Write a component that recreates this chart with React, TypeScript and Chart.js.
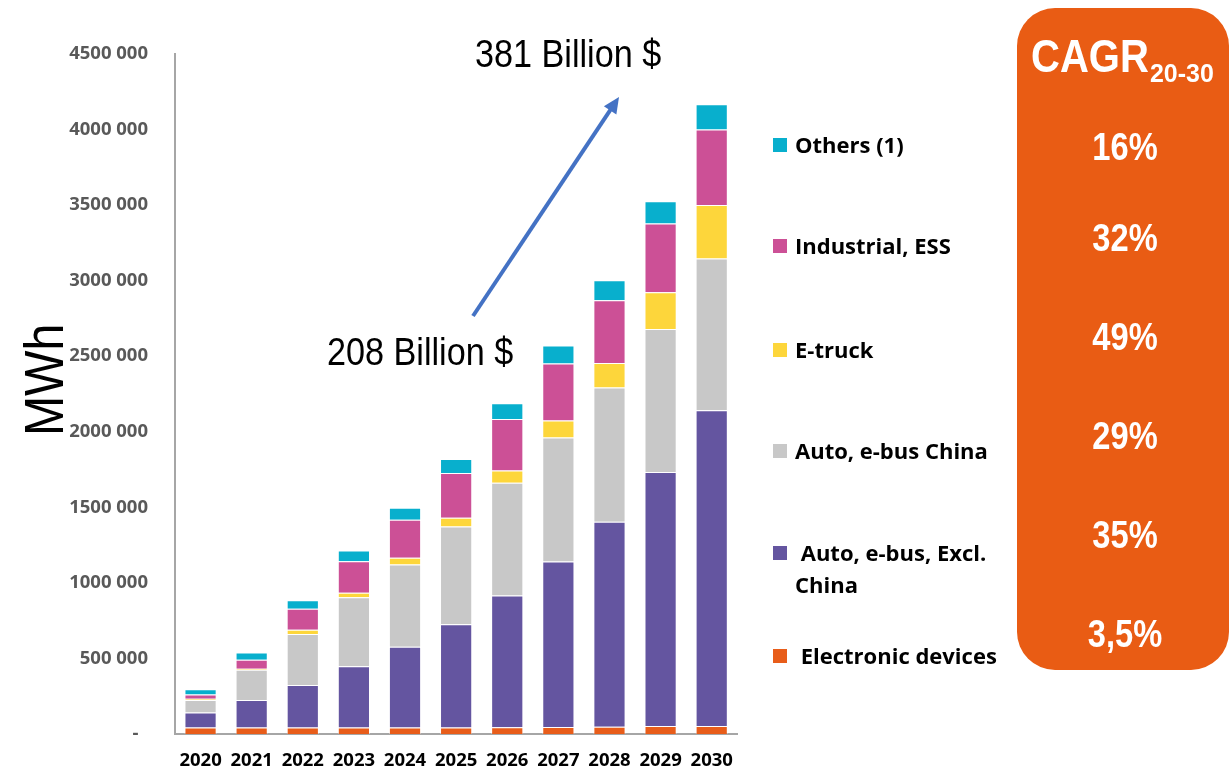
import { useEffect, useRef } from "react";
import { Chart, registerables } from "chart.js";

Chart.register(...registerables);

// Battery demand by application, MWh
const years = ["2020", "2021", "2022", "2023", "2024", "2025", "2026", "2027", "2028", "2029", "2030"];
const electronicDevices = [42000, 42000, 42000, 42000, 42000, 42000, 44000, 46000, 48000, 53000, 53000];
const autoExclChina = [99000, 183000, 282000, 406000, 534000, 684000, 872000, 1095000, 1356000, 1680000, 2089000];
const autoChina = [84000, 199000, 338000, 457000, 545000, 647000, 746000, 820000, 888000, 947000, 1004000];
const eTruck = [7000, 8000, 27000, 29000, 45000, 58000, 82000, 114000, 163000, 243000, 354000];
const industrialEss = [28000, 58000, 139000, 209000, 251000, 295000, 340000, 376000, 415000, 455000, 501000];
const others = [35000, 48000, 57000, 71000, 80000, 93000, 104000, 119000, 132000, 148000, 167000];

const yMax = 4500000;
const yStep = 500000;

// Legend entries, top to bottom, with their CAGR 2020-2030
const legendLabels = [["Others (1)"], ["Industrial, ESS"], ["E-truck"], ["Auto, e-bus China"], [" Auto, e-bus, Excl.", "China"], [" Electronic devices"]];
const cagrLabels = ["16%", "32%", "49%", "29%", "35%", "3,5%"];
const marketStart = "208 Billion $";
const marketEnd = "381 Billion $";

const COLORS = {
  electronic: "#E85D1A",
  exclChina: "#6455A0",
  china: "#C8C8C8",
  truck: "#FDD63B",
  industrial: "#CC5096",
  others: "#08AFCD",
};
const legendColors = [COLORS.others, COLORS.industrial, COLORS.truck, COLORS.china, COLORS.exclChina, COLORS.electronic];

const legendY = [145, 246, 350, 451, 553, 656];
const cagrBaselines = [160, 251, 350, 449, 548, 647];

function formatTick(v: number): string {
  if (v === 0) return "-  ";
  const thousands = Math.floor(v / 1000);
  const rest = String(v % 1000).padStart(3, "0");
  return `${thousands} ${rest}`;
}

export default function App() {
  const canvasRef = useRef<HTMLCanvasElement | null>(null);

  useEffect(() => {
    const canvas = canvasRef.current;
    if (!canvas) return;
    const tickFont = { family: "'Open Sans', sans-serif", weight: "bold" as const, size: 18.5 };
    const border = { display: true, color: "#A6A6A6", width: 2 };
    const mk = (label: string, data: number[], color: string) => ({
      label,
      data,
      backgroundColor: color,
      borderColor: "rgba(255,255,255,0.45)",
      borderWidth: 1,
      barPercentage: 0.63,
      categoryPercentage: 1,
    });
    const chart = new Chart(canvas, {
      type: "bar",
      data: {
        labels: years,
        datasets: [
          mk("Electronic devices", electronicDevices, COLORS.electronic),
          mk("Auto, e-bus, Excl. China", autoExclChina, COLORS.exclChina),
          mk("Auto, e-bus China", autoChina, COLORS.china),
          mk("E-truck", eTruck, COLORS.truck),
          mk("Industrial, ESS", industrialEss, COLORS.industrial),
          mk("Others (1)", others, COLORS.others),
        ],
      },
      options: {
        animation: false,
        responsive: false,
        maintainAspectRatio: false,
        layout: { padding: { top: 54, right: 3, left: 0, bottom: 0 } },
        plugins: { legend: { display: false }, tooltip: { enabled: false } },
        scales: {
          x: {
            stacked: true,
            grid: { display: false, drawTicks: false },
            border,
            ticks: { font: tickFont, color: "#000000", padding: 16, maxRotation: 0 },
            afterFit: (s: any) => {
              s.height = 38;
            },
          },
          y: {
            stacked: true,
            min: 0,
            max: yMax,
            grid: { display: false, drawTicks: false },
            border,
            ticks: {
              stepSize: yStep,
              font: tickFont,
              color: "#595959",
              padding: 27,
              callback: (v: any) => formatTick(Number(v)),
            },
            afterFit: (s: any) => {
              s.width = 175;
            },
          },
        },
      },
    });
    if (document.fonts) {
      document.fonts.load("bold 18px 'Open Sans'").then(() => chart.update()).catch(() => {});
    }
    return () => chart.destroy();
  }, []);

  // arrow geometry
  const ax0 = 473, ay0 = 316, ax1 = 619, ay1 = 97;
  const len = Math.hypot(ax1 - ax0, ay1 - ay0);
  const dx = (ax1 - ax0) / len, dy = (ay1 - ay0) / len;
  const headLen = 16, headHalf = 7.5;
  const bx = ax1 - dx * headLen, by = ay1 - dy * headLen;
  const head = `${ax1},${ay1} ${bx - dy * headHalf},${by + dx * headHalf} ${bx + dy * headHalf},${by - dx * headHalf}`;

  const arial = "'Liberation Sans', Arial, sans-serif";
  const openSans = "'Open Sans', sans-serif";

  return (
    <div style={{ position: "fixed", left: 0, top: 0, width: 1229, height: 772, background: "#ffffff", overflow: "hidden" }}>
      <canvas ref={canvasRef} width={749} height={772} style={{ position: "absolute", left: 0, top: 0, width: 749, height: 772 }} />
      <svg width={1229} height={772} style={{ position: "absolute", left: 0, top: 0, pointerEvents: "none" }}>
        {/* y-axis unit */}
        <g transform="translate(63,436) rotate(-90) scale(0.86,1)">
          <text x={0} y={0} fontFamily={arial} fontSize={56} fill="#000">MWh</text>
        </g>

        {/* market value annotations */}
        <g transform="translate(327,365) scale(0.9,1)">
          <text x={0} y={0} fontFamily={arial} fontSize={38} fill="#000">{marketStart}</text>
        </g>
        <g transform="translate(475,67) scale(0.9,1)">
          <text x={0} y={0} fontFamily={arial} fontSize={38} fill="#000">{marketEnd}</text>
        </g>
        <line x1={ax0} y1={ay0} x2={bx + dx * 2} y2={by + dy * 2} stroke="#4472C4" strokeWidth={4} />
        <polygon points={head} fill="#4472C4" />

        {/* legend */}
        {legendLabels.map((lines, i) => (
          <g key={i}>
            <rect x={773} y={legendY[i] - 7} width={14} height={14} fill={legendColors[i]} />
            {lines.map((t, j) => (
              <text key={j} x={795} y={legendY[i] + 8 + j * 32} fontFamily={openSans} fontWeight="bold" fontSize={22} fill="#000" style={{ whiteSpace: "pre" }} xmlSpace="preserve">
                {t}
              </text>
            ))}
          </g>
        ))}

        {/* CAGR panel */}
        <rect x={1017} y={8} width={212} height={662} rx={38} ry={38} fill="#E95C14" />
        <g transform="translate(1031,72) scale(0.87,1)">
          <text x={0} y={0} fontFamily={arial} fontWeight="bold" fontSize={46} fill="#fff">CAGR</text>
        </g>
        <g transform="translate(1150,82) scale(0.96,1)">
          <text x={0} y={0} fontFamily={arial} fontWeight="bold" fontSize={26} fill="#fff">20-30</text>
        </g>
        {cagrLabels.map((t, i) => (
          <g key={i} transform={`translate(1125,${cagrBaselines[i]}) scale(0.86,1)`}>
            <text x={0} y={0} textAnchor="middle" fontFamily={arial} fontWeight="bold" fontSize={38} fill="#fff">{t}</text>
          </g>
        ))}
      </svg>
    </div>
  );
}
